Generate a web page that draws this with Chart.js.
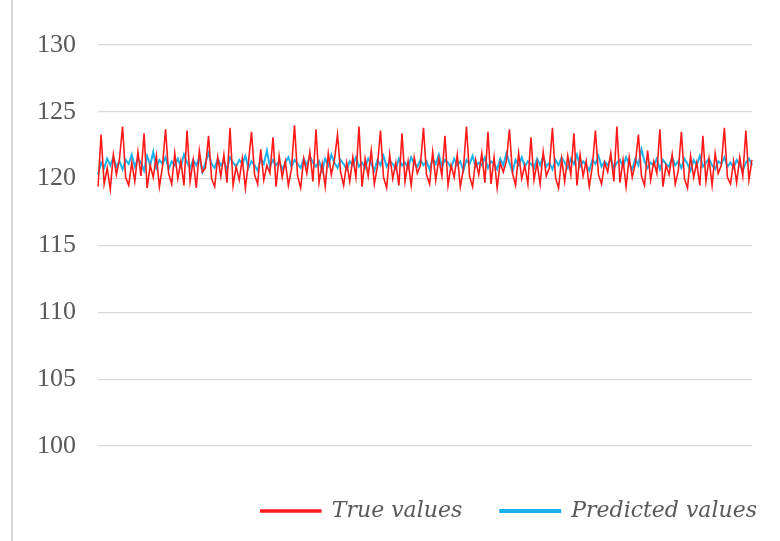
<!DOCTYPE html>
<html>
<head>
<meta charset="utf-8">
<script src="https://cdn.jsdelivr.net/npm/chart.js@4/dist/chart.umd.min.js"></script>
<style>
  html, body { margin: 0; padding: 0; background: #fff; }
  #wrap { position: relative; width: 780px; height: 541px; }
  #edge { position: absolute; left: 11px; top: 0; width: 2px; height: 541px; background: #d9d9d9; }
  canvas { position: absolute; left: 0; top: 0; }
</style>
</head>
<body>
<div id="wrap">
  <div id="edge"></div>
  <canvas id="chart" width="780" height="541"></canvas>
</div>
<script>
'use strict';

// values
const trueValues = [
  119.4,
  123.3, 119.6, 120.8, 119.2, 121.8, 120.3, 121.5,
  123.9, 120.1, 119.5, 121.2, 119.8, 122.0, 120.2,
  123.4, 119.3, 121.0, 120.1, 121.7, 119.4, 120.9,
  123.7, 120.4, 119.6, 121.9, 120.0, 121.3, 119.5,
  123.6, 119.8, 121.4, 119.3, 122.1, 120.5, 120.8,
  123.2, 120.0, 119.4, 121.6, 120.2, 121.8, 119.7,
  123.8, 119.5, 120.9, 119.9, 121.5, 119.3, 121.2,
  123.5, 120.3, 119.6, 122.2, 119.9, 121.0, 120.4,
  123.1, 119.4, 121.7, 120.1, 121.3, 119.5, 120.7,
  124.0, 120.2, 119.3, 121.5, 120.4, 122.0, 119.8,
  123.7, 119.7, 121.1, 119.4, 121.9, 120.3, 121.4,
  123.3, 120.5, 119.5, 121.2, 119.8, 121.6, 120.1,
  123.9, 119.4, 121.5, 120.2, 122.1, 119.6, 120.9,
  123.6, 120.1, 119.3, 121.8, 120.0, 121.2, 119.5,
  123.4, 119.8, 121.3, 119.5, 121.6, 120.4, 121.0,
  123.8, 120.3, 119.6, 122.0, 119.9, 121.5, 120.2,
  123.2, 119.5, 121.0, 120.1, 121.8, 119.4, 120.7,
  123.9, 120.2, 119.4, 121.4, 120.3, 121.9, 119.7,
  123.5, 119.6, 121.6, 119.3, 121.2, 120.5, 121.3,
  123.7, 120.4, 119.5, 121.9, 120.0, 121.0, 119.6,
  123.1, 119.9, 121.2, 119.6, 122.0, 120.2, 120.8,
  123.8, 120.1, 119.3, 121.5, 119.8, 121.7, 120.3,
  123.4, 119.5, 121.8, 120.2, 121.3, 119.4, 120.9,
  123.6, 120.3, 119.6, 121.2, 120.5, 121.9, 119.8,
  123.9, 119.7, 121.4, 119.4, 121.6, 120.1, 121.1,
  123.3, 120.2, 119.5, 122.1, 119.9, 121.3, 120.4,
  123.7, 119.4, 121.0, 120.3, 121.8, 119.6, 120.6,
  123.5, 120.0, 119.3, 121.7, 120.1, 121.2, 119.5,
  123.2, 119.8, 121.5, 119.5, 121.9, 120.4, 121.0,
  123.8, 120.1, 119.6, 121.3, 119.7, 121.6, 120.2,
  123.6, 119.9, 121.4
];

const predictedValues = [
  120.3, 121.2, 120.8, 121.5, 121.0, 121.6, 120.9, 121.3, 120.7, 121.4,
  121.1, 121.8, 120.9, 121.5, 121.2, 120.6, 121.7, 121.0, 122.0, 120.8,
  121.4, 121.1, 121.6, 120.7, 121.3, 121.0, 121.5, 120.9, 121.8, 121.2,
  120.8, 121.4, 121.0, 121.6, 120.5, 121.2, 121.9, 121.1, 120.8, 121.5,
  121.0, 121.3, 120.7, 121.6, 121.2, 120.9, 121.4, 121.1, 121.7, 120.8,
  121.3, 121.0, 120.6, 121.5, 121.1, 122.1, 120.9, 121.4, 121.0, 121.3,
  120.7, 121.2, 121.6, 120.9, 121.4, 121.1, 120.8, 121.5, 121.0, 121.7,
  121.2, 120.9, 121.3, 120.6, 121.5, 121.0, 121.8, 121.2, 120.8, 121.4,
  121.1, 120.7, 121.3, 121.0, 121.6, 120.9, 121.2, 120.8, 121.5, 121.1,
  120.6, 121.4, 121.0, 121.7, 120.9, 121.3, 121.1, 120.7, 121.5, 121.0,
  121.2, 120.8, 121.6, 121.1, 120.9, 121.4, 121.0, 121.3, 120.7, 121.5,
  121.1, 121.8, 120.9, 121.4, 121.2, 120.8, 121.5, 121.0, 121.3, 120.6,
  121.4, 121.1, 121.7, 120.9, 121.2, 121.0, 121.6, 120.8, 121.3, 121.1,
  120.7, 121.5, 121.0, 121.9, 121.2, 120.5, 121.4, 121.0, 121.6, 120.9,
  121.3, 121.1, 120.8, 121.5, 121.0, 121.7, 120.9, 121.2, 120.7, 121.4,
  121.0, 121.6, 121.2, 120.8, 121.5, 121.1, 121.8, 120.9, 121.3, 121.0,
  120.6, 121.4, 121.1, 121.7, 120.9, 121.3, 121.0, 121.5, 120.8, 121.2,
  121.4, 120.9, 121.6, 121.1, 120.7, 121.5, 121.0, 122.2, 121.3, 120.8,
  121.2, 121.0, 121.5, 120.7, 121.4, 121.1, 120.9, 121.6, 121.0, 121.3,
  120.8, 121.5, 121.1, 120.6, 121.4, 121.0, 121.7, 120.9, 121.2, 121.5,
  121.0, 120.7, 121.3, 121.1, 121.6, 120.9, 121.2, 120.8, 121.4, 121.0,
  120.6, 121.2, 121.5, 121.0
];

const seriesNames = ['True values', 'Predicted values'];
const yMin = 100, yMax = 130, yStep = 5;

const labels = trueValues.map((v, i) => i + 1);
const serif = '"Liberation Serif", "DejaVu Serif", serif';

// the legend in the picture runs past the plot's right edge
const legendShift = {
  id: 'legendShift',
  afterLayout(chart) {
    chart.legend.left += 43;
    chart.legend.right += 43;
  }
};

new Chart(document.getElementById('chart').getContext('2d'), {
  type: 'line',
  data: {
    labels: labels,
    datasets: [{
      label: seriesNames[0],
      data: trueValues,
      borderColor: '#ff1a1a',
      backgroundColor: '#ff1a1a',
      borderWidth: 1.6,
      pointRadius: 0,
      tension: 0
    }, {
      label: seriesNames[1],
      data: predictedValues,
      borderColor: '#19b4ee',
      backgroundColor: '#19b4ee',
      borderWidth: 2,
      pointRadius: 0,
      tension: 0
    }]
  },
  options: {
    responsive: false,
    animation: false,
    layout: { padding: { left: 15, right: 28, top: 45, bottom: 9 } },
    plugins: {
      tooltip: { enabled: false },
      legend: {
        position: 'bottom',
        align: 'end',
        labels: {
          boxWidth: 60,
          boxHeight: 2,
          padding: 38,
          color: '#595959',
          font: { family: '"DejaVu Serif", serif', size: 22, style: 'italic' }
        }
      }
    },
    scales: {
      x: {
        offset: false,
        grid: { display: false },
        border: { display: false },
        ticks: { display: false },
        afterFit: (s) => { s.height = 16; }
      },
      y: {
        min: yMin,
        max: yMax,
        ticks: {
          stepSize: yStep,
          padding: 22,
          color: '#595959',
          font: { family: serif, size: 26 }
        },
        grid: { color: '#d9d9d9', lineWidth: 1.3, drawTicks: false },
        border: { display: false }
      }
    }
  },
  plugins: [legendShift]
});
</script>
</body>
</html>
